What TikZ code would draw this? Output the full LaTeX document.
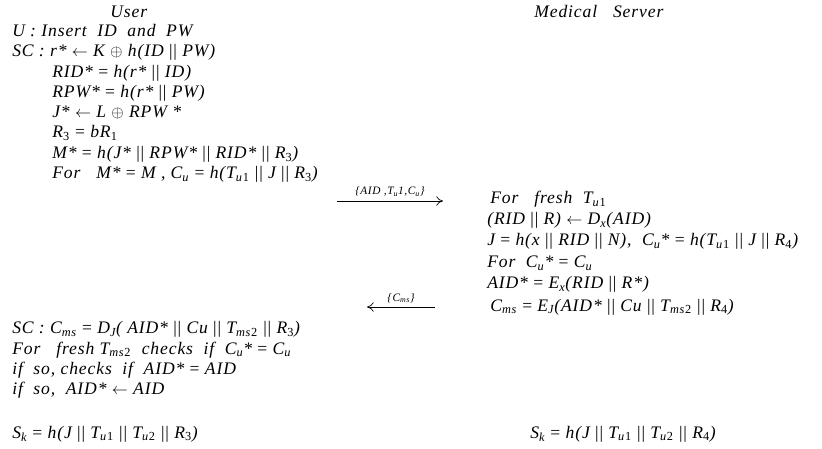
\documentclass[tikz,border=0pt]{standalone}
\usepackage{fontspec}
\setmainfont{Liberation Serif}
\newfontfamily\spfont[LetterSpace=5]{Liberation Serif}
\usetikzlibrary{arrows.meta}
\newcommand{\sbs}[1]{\textsubscript{\upshape #1}}
\newcommand{\isb}[1]{\textsubscript{#1}}
\newcommand{\xor}{\ $\oplus$\ }
\newcommand{\bars}{\ {\upshape||}\ }
\newcommand{\eq}{\ {\upshape =}\ }
\newcommand{\la}{\ $\leftarrow$\ }
\begin{document}
\begin{tikzpicture}[x=0.75pt,y=-0.75pt,
  ln/.style={anchor=base west,inner sep=0pt,font=\spfont\fontsize{13.2}{14}\selectfont\itshape},
  hd/.style={ln},
  msg/.style={anchor=base,inner sep=0pt,font=\spfont\fontsize{8.5}{9}\selectfont\itshape},
  arr/.style={-{To[length=5pt,width=7pt]},line width=0.5pt}]
\useasboundingbox (0,0) rectangle (822,449);
% headers
\node[hd] (huser) at (110,18) {User};
\node[hd] (hserv) at (534,18) {Medical\ \ \ Server};
% user side
\node[ln] (u1) at (12,37) {U : Insert\ \ ID\ \ and\ \ PW};
\node[ln] (u2) at (12,57) {SC : r*\la K\xor h(ID\bars PW)};
\node[ln] (u3) at (52,78) {RID*\eq h(r*\bars ID)};
\node[ln] (u4) at (52,98) {RPW*\eq h(r*\bars PW)};
\node[ln] (u5) at (52,118) {J*\la L\xor RPW *};
\node[ln] (u6) at (52,138) {R\sbs{3}\eq bR\sbs{1}};
\node[ln] (u7) at (52,159) {M*\eq h(J*\bars RPW*\bars RID*\bars R\sbs{3})};
\node[ln] (u8) at (52,179) {For\ \ \ M*\eq M , C\isb{u}\eq h(T\isb{u}\sbs{1}\bars J\bars R\sbs{3})};
% arrow 1
\coordinate (a1s) at (337,201);
\coordinate (a1e) at (443,201);
\draw[arr] (a1s) -- (a1e) node[msg,midway,above=3pt] (m1) {\{AID ,T\isb{u}1,C\isb{u}\}};
% server side
\node[ln] (s1) at (490,204) {For\ \ \ fresh\ \ T\isb{u}\sbs{1}};
\node[ln] (s2) at (487,225) {(RID\bars R)\la D\isb{x}(AID)};
\node[ln] (s3) at (487,246) {J\eq h(x\bars RID\bars N),\ \ C\isb{u}*\eq h(T\isb{u}\sbs{1}\bars J\bars R\sbs{4})};
\node[ln] (s4) at (487,268) {For\ \ C\isb{u}*\eq C\isb{u}};
\node[ln] (s5) at (487,289) {AID*\eq E\isb{x}(RID\bars R*)};
\node[ln] (s6) at (490,311) {C\isb{ms}\eq E\isb{J}(AID*\bars Cu\bars T\isb{ms}\sbs{2}\bars R\sbs{4})};
% arrow 2
\coordinate (a2s) at (435,307);
\coordinate (a2e) at (367,307);
\draw[arr] (a2s) -- (a2e) node[msg,midway,above=3pt] (m2) {\{C\isb{ms}\}};
% user bottom
\node[ln] (b1) at (12,334) {SC : C\isb{ms}\eq D\isb{J}( AID*\bars Cu\bars T\isb{ms}\sbs{2}\bars R\sbs{3})};
\node[ln] (b2) at (12,354) {For\ \ \ fresh\ T\isb{ms}\sbs{2}\ \ checks\ \ if\ \ C\isb{u}*\eq C\isb{u}};
\node[ln] (b3) at (12,374) {if\ \ so, checks\ \ if\ \ AID*\eq AID};
\node[ln] (b4) at (12,394) {if\ \ so,\ \ AID*\la AID};
\node[ln] (k1) at (12,438) {S\isb{k}\eq h(J\bars T\isb{u}\sbs{1}\bars T\isb{u}\sbs{2}\bars R\sbs{3})};
\node[ln] (k2) at (530,438) {S\isb{k}\eq h(J\bars T\isb{u}\sbs{1}\bars T\isb{u}\sbs{2}\bars R\sbs{4})};
\end{tikzpicture}
\end{document}
